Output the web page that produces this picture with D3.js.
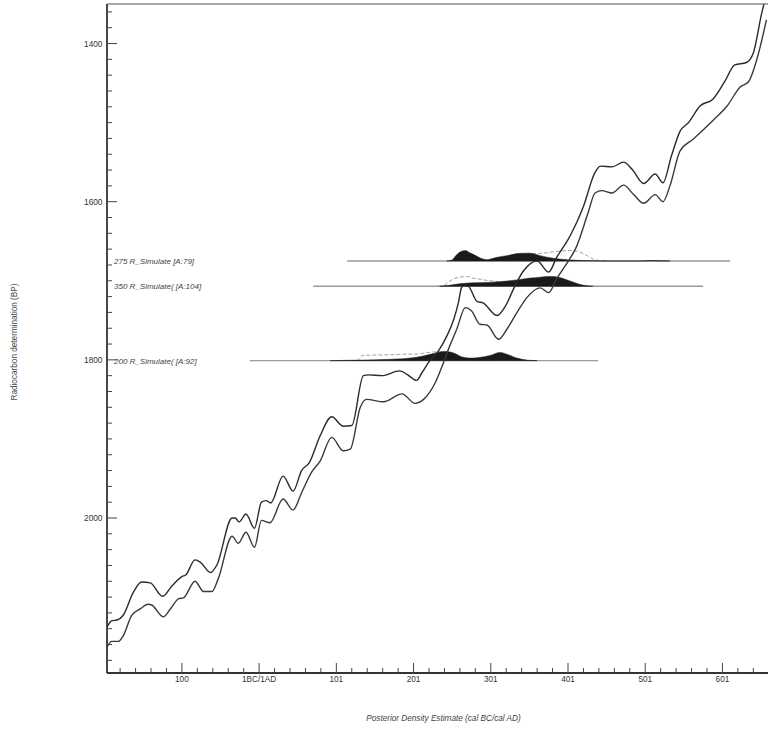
<!DOCTYPE html>
<html>
<head>
<meta charset="utf-8">
<script src="https://cdn.jsdelivr.net/npm/d3@7/dist/d3.min.js"></script>
<style>
  html, body { margin: 0; padding: 0; background: #fff; }
  svg { display: block; font-family: "Liberation Sans", Arial, Helvetica, sans-serif; }
</style>
</head>
<body>
<svg id="chart" width="768" height="729"></svg>
<script>
// ---------------- DATA ----------------
// Calibration curve, upper (younger) 1-sigma band edge: cal year (BC negative) and BP
const upperYears = [-197,-191,-184,-176,-163,-152,-141,-125,-113,-100,-95,-83,-76,-63,-55,-35,-31,-26,-17,-6,3,9,15,31,44,55,65,79,94,109,120,135,142,159,182,191,204,211,221,232,243,252,258,262,265,271,282,290,308,319,331,342,360,375,385,400,405,420,435,442,457,472,483,498,513,523,534,545,556,571,588,603,616,631,640,651,657];
const upperBP = [2138,2130,2129,2123,2094,2081,2082,2099,2086,2074,2072,2053,2056,2069,2060,2000,2000,2005,1995,2013,1980,1978,1981,1947,1966,1940,1930,1896,1872,1884,1883,1820,1819,1820,1814,1818,1826,1816,1801,1789,1770,1749,1728,1709,1706,1707,1726,1728,1744,1732,1707,1688,1675,1689,1671,1648,1639,1606,1563,1555,1556,1550,1559,1577,1565,1576,1542,1511,1500,1479,1470,1448,1427,1424,1412,1361,1338];
// lower (older) band edge
const lowerYears = [-197,-191,-182,-176,-165,-154,-144,-139,-124,-115,-104,-98,-83,-72,-61,-53,-35,-27,-17,-6,3,14,31,44,55,68,79,94,109,118,131,139,161,185,202,213,228,237,247,256,267,275,286,295,310,321,334,347,364,375,385,403,410,426,435,444,457,472,485,498,513,523,532,545,562,588,606,623,634,644,657];
const lowerBP = [2163,2156,2156,2149,2123,2115,2109,2110,2125,2115,2102,2101,2080,2093,2093,2077,2023,2032,2018,2037,2003,2006,1976,1990,1968,1942,1928,1898,1915,1913,1860,1850,1853,1843,1855,1850,1829,1808,1782,1761,1734,1738,1755,1756,1774,1761,1740,1721,1709,1715,1698,1671,1659,1614,1589,1586,1589,1579,1591,1602,1591,1600,1580,1536,1521,1497,1479,1455,1448,1422,1370];

// Simulated dates
const rowLabels = ["275 R_Simulate [A:79]", "350 R_Simulate( [A:104]", "200 R_Simulate( [A:92]"];
const rowBP = [1675, 1707, 1801];
const rowRangeStart = [114, 70, -12];
const rowRangeEnd = [610, 575, 439];

// Posterior densities (relative, %)
const post1Years = [243,250,254,260,267,273,282,287,295,300,308,321,338,351,364,381,403,429,454,493,506,519,532];
const post1Dens  = [0,10,45,85,100,78,46,26,13,19,35,51,73,75,51,26,10,3,0,0,5,2,0];
const post2Years = [234,247,262,280,295,312,325,338,351,364,374,385,398,409,420,432];
const post2Dens  = [0,10,26,34,37,44,53,65,78,87,94,90,63,34,10,0];
const post3Years = [92,129,150,170,187,204,215,226,239,247,255,263,273,284,299,312,322,334,347,360];
const post3Dens  = [0,5,8,13,19,32,49,68,87,83,63,34,24,29,49,78,58,24,5,0];

// Likelihood (unmodelled) outlines (relative, %)
const like1Years = [300,310,321,338,351,359,364,372,381,394,403,412,425,436,450];
const like1Dens  = [0,10,29,58,68,68,73,78,87,97,100,94,51,10,0];
const like2Years = [232,239,245,252,260,269,277,286,295,303,312,321,338,357,377,396,409,422,435];
const like2Dens  = [0,7,39,71,87,94,78,68,56,50,45,46,53,63,63,44,19,5,0];
const like3Years = [126,129,132,135,150,170,187,204,215,226,239,247,258,268,280,293];
const like3Dens  = [0,10,39,51,53,56,61,63,73,83,83,68,39,15,5,0];

const posteriors = [
  {years: post1Years, dens: post1Dens},
  {years: post2Years, dens: post2Dens},
  {years: post3Years, dens: post3Dens}
];
const likelihoods = [
  {years: like1Years, dens: like1Dens},
  {years: like2Years, dens: like2Dens},
  {years: like3Years, dens: like3Dens}
];

// Axis ticks
const xMajorTicks = [-100, 0, 100, 200, 300, 400, 500, 600];
const xTickLabels = ["100", "1BC/1AD", "101", "201", "301", "401", "501", "601"];
const yMajorTicks = [1400, 1600, 1800, 2000];
const yTickLabels = ["1400", "1600", "1800", "2000"];

// ---------------- CHART ----------------
(function () {
const svg = d3.select("#chart");
const pL = 107, pR = 768, pT = 4, pB = 673;

const x = d3.scaleLinear().domain([-197, 659]).range([pL, pR]);
const y = d3.scaleLinear().domain([1350, 2196]).range([pT, pB]);
const h = d3.scaleLinear().domain([0, 100]).range([0, 10.5]);

svg.append("defs").append("clipPath").attr("id", "plotclip")
  .append("rect").attr("x", pL).attr("y", pT).attr("width", pR - pL).attr("height", pB - pT);

const plot = svg.append("g").attr("clip-path", "url(#plotclip)");

// Density rows
rowBP.forEach((bp, i) => {
  const by = y(bp);
  plot.append("line")
    .attr("x1", x(rowRangeStart[i])).attr("x2", x(rowRangeEnd[i]))
    .attr("y1", by).attr("y2", by)
    .attr("stroke", "#9a9a9a").attr("stroke-width", 1.4);

  const L = likelihoods[i];
  const lineGen = d3.line()
    .x((d, k) => x(L.years[k]))
    .y((d, k) => by - h(L.dens[k]))
    .curve(d3.curveMonotoneX);
  plot.append("path")
    .attr("d", lineGen(L.years))
    .attr("fill", "none").attr("stroke", "#8a8a8a")
    .attr("stroke-width", 0.8).attr("stroke-dasharray", "4,2");

  const P = posteriors[i];
  const areaGen = d3.area()
    .x((d, k) => x(P.years[k]))
    .y0(by)
    .y1((d, k) => by - h(P.dens[k]))
    .curve(d3.curveMonotoneX);
  plot.append("path")
    .attr("d", areaGen(P.years))
    .attr("fill", "#1a1a1a").attr("stroke", "#1a1a1a").attr("stroke-width", 0.5);

  svg.append("text")
    .attr("x", 114).attr("y", by + 3)
    .attr("font-size", 8).attr("font-style", "italic")
    .attr("fill", "#444")
    .text(rowLabels[i]);
});

// Calibration curve
const curveLine = d3.line().curve(d3.curveMonotoneX);
plot.append("path")
  .attr("d", curveLine(upperYears.map((yr, k) => [x(yr), y(upperBP[k])])))
  .attr("fill", "none").attr("stroke", "#2b2b2b").attr("stroke-width", 1.4);
plot.append("path")
  .attr("d", curveLine(lowerYears.map((yr, k) => [x(yr), y(lowerBP[k])])))
  .attr("fill", "none").attr("stroke", "#3a3a3a").attr("stroke-width", 1.4);

// Frame
svg.append("line").attr("x1", pL).attr("x2", pR).attr("y1", pT).attr("y2", pT)
  .attr("stroke", "#555").attr("stroke-width", 1.2);
svg.append("line").attr("x1", pL).attr("x2", pL).attr("y1", pT).attr("y2", pB)
  .attr("stroke", "#333").attr("stroke-width", 1.8);
svg.append("line").attr("x1", pL).attr("x2", pR).attr("y1", pB).attr("y2", pB)
  .attr("stroke", "#333").attr("stroke-width", 1.8);

// Y ticks
const yMinor = d3.range(1360, 2196, 20);
svg.selectAll(".ymin").data(yMinor).enter().append("line")
  .attr("x1", pL).attr("x2", d => yMajorTicks.includes(d) ? pL + 10 : pL + 5)
  .attr("y1", d => y(d)).attr("y2", d => y(d))
  .attr("stroke", "#444").attr("stroke-width", 1);
svg.selectAll(".ylab").data(yMajorTicks).enter().append("text")
  .attr("x", pL - 4.5).attr("y", d => y(d) + 3)
  .attr("text-anchor", "end").attr("font-size", 8.3).attr("fill", "#333")
  .text((d, i) => yTickLabels[i]);

// X ticks
const xMinor = d3.range(-180, 659, 20);
svg.selectAll(".xmin").data(xMinor).enter().append("line")
  .attr("x1", d => x(d)).attr("x2", d => x(d))
  .attr("y1", pB).attr("y2", d => xMajorTicks.includes(d) ? pB - 10 : pB - 5)
  .attr("stroke", "#444").attr("stroke-width", 1);
svg.selectAll(".xlab").data(xMajorTicks).enter().append("text")
  .attr("x", d => x(d)).attr("y", pB + 9)
  .attr("text-anchor", "middle").attr("font-size", 8.2).attr("fill", "#333")
  .text((d, i) => xTickLabels[i]);

// Axis titles
svg.append("text")
  .attr("x", (pL + pR) / 2 + 6).attr("y", 721)
  .attr("text-anchor", "middle").attr("font-size", 8.2).attr("font-style", "italic")
  .attr("fill", "#444")
  .text("Posterior Density Estimate (cal BC/cal AD)");
svg.append("text")
  .attr("transform", "translate(17,342) rotate(-90)")
  .attr("text-anchor", "middle").attr("font-size", 8.2)
  .attr("fill", "#444")
  .text("Radiocarbon determination (BP)");
})();
</script>
</body>
</html>
